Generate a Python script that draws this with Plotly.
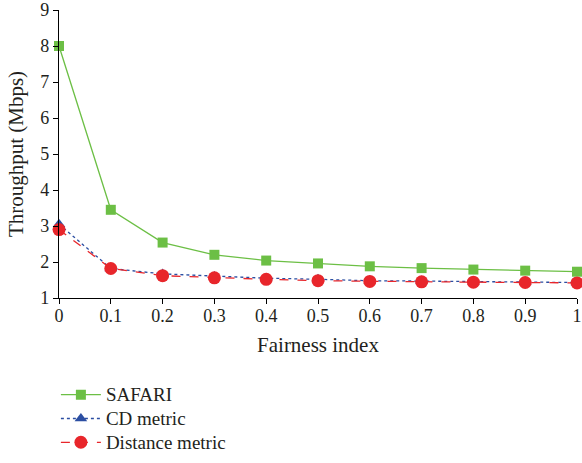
import plotly.graph_objects as go

x_vals = [0, 0.1, 0.2, 0.3, 0.4, 0.5, 0.6, 0.7, 0.8, 0.9, 1.0]
x_labels = ["0", "0.1", "0.2", "0.3", "0.4", "0.5", "0.6", "0.7", "0.8", "0.9", "1"]
safari = [8.0, 3.45, 2.54, 2.2, 2.04, 1.96, 1.88, 1.83, 1.79, 1.76, 1.73]
cd_metric = [3.05, 1.82, 1.67, 1.6, 1.55, 1.52, 1.48, 1.47, 1.45, 1.44, 1.43]
distance_metric = [2.9, 1.82, 1.62, 1.56, 1.52, 1.48, 1.46, 1.45, 1.44, 1.43, 1.42]
series_names = ["SAFARI", "CD metric", "Distance metric"]

font_family = "Liberation Serif"


def legend_label(text):
    return "<span style='font-size:19px'>" + text + "</span>"


fig = go.Figure()
fig.add_trace(go.Scatter(
    x=x_vals, y=safari, name=legend_label(series_names[0]), mode="lines+markers",
    line=dict(color="#6cbf45", width=1.3),
    marker=dict(symbol="square", size=10, color="#6cbf45"),
    cliponaxis=False,
))
fig.add_trace(go.Scatter(
    x=x_vals, y=cd_metric, name=legend_label(series_names[1]), mode="lines+markers",
    line=dict(color="#2b4ea2", width=1.3, dash="dot"),
    marker=dict(symbol="triangle-up", size=11, color="#2b4ea2"),
    cliponaxis=False,
))
fig.add_trace(go.Scatter(
    x=x_vals, y=distance_metric, name=legend_label(series_names[2]), mode="lines+markers",
    line=dict(color="#e8262b", width=1.3, dash="dash"),
    marker=dict(symbol="circle", size=13, color="#e8262b"),
    cliponaxis=False,
))

fig.update_layout(
    width=582, height=463,
    margin=dict(l=59, r=5, t=10, b=165, autoexpand=False),
    paper_bgcolor="white", plot_bgcolor="white",
    font=dict(family=font_family, size=18, color="#231f20"),
    showlegend=True,
    legend=dict(
        x=-0.006, y=-0.277, xanchor="left", yanchor="top",
        font=dict(family=font_family, size=16, color="#231f20"),
        bgcolor="rgba(0,0,0,0)", tracegroupgap=0,
        itemwidth=40,
    ),
    xaxis=dict(
        range=[0, 1], tickvals=x_vals, ticktext=x_labels,
        showgrid=False, zeroline=False, showline=True,
        linecolor="black", linewidth=1.3, automargin=False,
        ticks="outside", ticklen=5, tickcolor="black", tickwidth=1.3,
        title=dict(text="Fairness index", font=dict(size=21), standoff=12),
        tickfont=dict(size=18), ticklabelstandoff=-4,
    ),
    yaxis=dict(
        range=[1, 9], dtick=1, tick0=1,
        showgrid=False, zeroline=False, showline=True,
        linecolor="black", linewidth=1.3, automargin=False,
        ticks="outside", ticklen=5, tickcolor="black", tickwidth=1.3,
        title=dict(text="Throughput (Mbps)", font=dict(size=21), standoff=10),
        tickfont=dict(size=18),
    ),
)

fig.write_html("out.html", config={"displayModeBar": False},
               post_script="document.body.style.margin='0px';")
